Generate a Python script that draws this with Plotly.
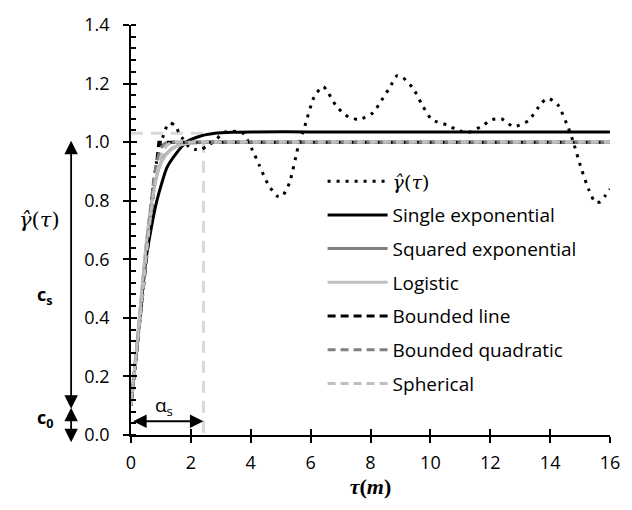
import plotly.graph_objects as go

# ---------------- data ----------------
emp_x = [0, 0.3, 0.6, 0.85, 1.06, 1.15, 1.28, 1.47, 1.6, 1.74, 1.95, 2.15, 2.35, 2.58, 2.78,
         3.08, 3.4, 3.73, 4.06, 4.28, 4.6, 4.9, 5.05, 5.29, 5.58, 5.8, 6.12, 6.42, 6.84, 7.17,
         7.6, 8.08, 8.37, 8.64, 8.89, 9.09, 9.43, 9.72, 10.05, 10.54, 10.98, 11.26, 11.69,
         12.07, 12.37, 12.78, 13.27, 13.71, 13.93, 14.26, 14.58, 14.75, 15.04, 15.28, 15.51,
         15.67, 15.84, 16]
emp_y = [0.10, 0.40, 0.72, 0.93, 1.016, 1.044, 1.065, 1.058, 1.032, 1.01, 0.982, 0.975, 0.975,
         0.99, 1.002, 1.032, 1.037, 1.032, 0.972, 0.922, 0.852, 0.815, 0.815, 0.86, 0.982,
         1.052, 1.155, 1.19, 1.126, 1.092, 1.077, 1.1, 1.143, 1.186, 1.227, 1.22, 1.183, 1.128,
         1.077, 1.059, 1.038, 1.033, 1.053, 1.077, 1.08, 1.053, 1.073, 1.133, 1.15, 1.127,
         1.056, 1.008, 0.91, 0.84, 0.794, 0.796, 0.817, 0.84]

sexp_x = [0, 0.07, 0.2, 0.5, 0.84, 1.2, 1.5, 1.85, 2.3, 2.8, 3.4, 4.0, 6.0, 16]
sexp_y = [0.10, 0.17, 0.30, 0.60, 0.79, 0.913, 0.96, 1.0, 1.02, 1.03, 1.034, 1.035, 1.035, 1.035]

sqexp_x = [0, 0.07, 0.2, 0.5, 0.68, 0.9, 1.1, 1.4, 1.8, 2.5, 3.2, 5.0, 16]
sqexp_y = [0.10, 0.18, 0.31, 0.64, 0.79, 0.90, 0.95, 0.98, 0.995, 1.0, 1.0, 1.0, 1.0]

logi_x = [0, 0.07, 0.2, 0.5, 0.7, 0.93, 1.2, 1.5, 2.0, 3.0, 4.0, 6.0, 16]
logi_y = [0.10, 0.18, 0.31, 0.645, 0.80, 0.913, 0.96, 0.985, 0.997, 1.0, 1.0, 1.0, 1.0]

bline_x = [0, 0.93, 16]
bline_y = [0.10, 1.0, 1.0]

bquad_x = [0, 0.2, 0.4, 0.6, 0.8, 1.0, 1.2, 1.5, 2.0, 3.0, 16]
bquad_y = [0.10, 0.30, 0.50, 0.72, 0.90, 0.98, 1.0, 1.0, 1.0, 1.0, 1.0]

spher_x = [0, 0.2, 0.4, 0.6, 0.8, 1.0, 1.2, 1.4, 1.7, 2.2, 3.0, 16]
spher_y = [0.10, 0.30, 0.50, 0.70, 0.86, 0.95, 0.99, 1.0, 1.0, 1.0, 1.0, 1.0]

# range / sill guide
guide_x = [0, 2.42, 2.42]
guide_y = [1.03, 1.03, 0]

GAMMA_HAT = '<span style="font-family:DejaVu Serif"><i>γ̂</i>(<i>τ</i>)</span>'
legend_names = [GAMMA_HAT,
                "Single exponential", "Squared exponential", "Logistic",
                "Bounded line", "Bounded quadratic", "Spherical"]

BLACK = "#000000"
DGREY = "#808080"
LGREY = "#bfbfbf"

fig = go.Figure()

fig.add_trace(go.Scatter(x=guide_x, y=guide_y, mode="lines", showlegend=False,
                         line=dict(color="#d9d9d9", width=3, dash="12px,8px"),
                         hoverinfo="skip"))

SPL = dict(shape="spline", smoothing=0.6)
fig.add_trace(go.Scatter(x=emp_x, y=emp_y, mode="lines", name=legend_names[0],
                         line=dict(color=BLACK, width=3, dash="3px,6px", **SPL),
                         legendgroup="a"))
fig.add_trace(go.Scatter(x=sexp_x, y=sexp_y, mode="lines", name=legend_names[1],
                         line=dict(color=BLACK, width=3, **SPL), legendgroup="b"))
fig.add_trace(go.Scatter(x=sqexp_x, y=sqexp_y, mode="lines", name=legend_names[2],
                         line=dict(color=DGREY, width=3, **SPL), legendgroup="c"))
fig.add_trace(go.Scatter(x=logi_x, y=logi_y, mode="lines", name=legend_names[3],
                         line=dict(color=LGREY, width=3, **SPL), legendgroup="d"))
fig.add_trace(go.Scatter(x=bline_x, y=bline_y, mode="lines", name=legend_names[4],
                         line=dict(color=BLACK, width=3, dash="8px,5px"),
                         legendgroup="e"))
fig.add_trace(go.Scatter(x=bquad_x, y=bquad_y, mode="lines", name=legend_names[5],
                         line=dict(color=DGREY, width=3, dash="8px,5px", **SPL),
                         legendgroup="f"))
fig.add_trace(go.Scatter(x=spher_x, y=spher_y, mode="lines", name=legend_names[6],
                         line=dict(color=LGREY, width=3, dash="8px,5px", **SPL),
                         legendgroup="g"))

TICKFONT = dict(family="Open Sans", size=18, color="#000000")

fig.update_layout(
    width=632, height=510,
    margin=dict(l=131, r=12, t=14, b=75),
    plot_bgcolor="white", paper_bgcolor="white",
    font=dict(family="Open Sans", size=18, color="#000000"),
    showlegend=True,
    legend=dict(x=0.40, y=0.665, xanchor="left", yanchor="top",
                bgcolor="rgba(0,0,0,0)", font=dict(family="Open Sans", size=19),
                traceorder="grouped", tracegroupgap=6, itemwidth=60),
    xaxis=dict(range=[0, 16], tickvals=[0, 2, 4, 6, 8, 10, 12, 14, 16],
               ticktext=["0", "2", "4", "6", "8", "10", "12", "14", "16"],
               showgrid=False, zeroline=False, showline=True, linecolor="black",
               linewidth=1.5, ticks="outside", ticklen=6, tickwidth=1.5, tickcolor="black",
               tickfont=TICKFONT, ticklabelstandoff=5,
               title=dict(text="<b><i>τ</i>(<i>m</i>)</b>",
                          font=dict(family="Liberation Serif", size=22), standoff=0)),
    yaxis=dict(range=[0, 1.4], tickvals=[0, 0.2, 0.4, 0.6, 0.8, 1.0, 1.2, 1.4],
               ticktext=["0.0", "0.2", "0.4", "0.6", "0.8", "1.0", "1.2", "1.4"],
               showgrid=False, zeroline=False, showline=True, linecolor="black",
               linewidth=1.5, ticks="outside", ticklen=6, tickwidth=1.5, tickcolor="black",
               tickfont=TICKFONT, ticklabelstandoff=10,
               minor=dict(dtick=0.04, tick0=0, ticks="inside", ticklen=5, tickwidth=1.5,
                          tickcolor="black")),
    # overlay axes to make major ticks cross the axis lines
    xaxis2=dict(overlaying="x", matches="x", range=[0, 16], side="bottom",
                tickvals=[0, 2, 4, 6, 8, 10, 12, 14, 16], showticklabels=False,
                ticks="inside", ticklen=6, tickwidth=1.5, tickcolor="black",
                showgrid=False, zeroline=False, showline=False),
    yaxis2=dict(overlaying="y", matches="y", range=[0, 1.4], side="left",
                tickvals=[0, 0.2, 0.4, 0.6, 0.8, 1.0, 1.2, 1.4], showticklabels=False,
                ticks="inside", ticklen=6, tickwidth=1.5, tickcolor="black",
                showgrid=False, zeroline=False, showline=False),
)

# invisible trace to activate the overlay axes
fig.add_trace(go.Scatter(x=[0], y=[0], xaxis="x2", yaxis="y2", mode="markers",
                         marker=dict(opacity=0), showlegend=False, hoverinfo="skip"))

ARROW = dict(showarrow=True, arrowhead=2, arrowsize=1.5, arrowwidth=1.8,
             arrowcolor="black", arrowside="end+start", text="")

# c_s double arrow
fig.add_annotation(xref="x domain", yref="y", x=-0.125, y=0.09, ax=-0.125, ay=1.01,
                   axref="x domain", ayref="y", **ARROW)
# c_0 double arrow
fig.add_annotation(xref="x domain", yref="y", x=-0.125, y=-0.025, ax=-0.125, ay=0.098,
                   axref="x domain", ayref="y", **ARROW)
# alpha_s double arrow
fig.add_annotation(xref="x", yref="y", x=2.42, y=0.047, ax=0.02, ay=0.047,
                   axref="x", ayref="y", **ARROW)

fig.add_annotation(xref="x domain", yref="y", x=-0.19, y=0.735, showarrow=False,
                   xanchor="center", yanchor="middle",
                   text="<i>γ̂</i>(<i>τ</i>)",
                   font=dict(family="DejaVu Serif", size=21))
fig.add_annotation(xref="x domain", yref="y", x=-0.18, y=0.475, showarrow=False,
                   xanchor="center", yanchor="middle",
                   text="<b>c<sub>s</sub></b>", font=dict(family="Open Sans", size=18))
fig.add_annotation(xref="x domain", yref="y", x=-0.18, y=0.057, showarrow=False,
                   xanchor="center", yanchor="middle",
                   text="<b>c<sub>0</sub></b>", font=dict(family="Open Sans", size=18))
fig.add_annotation(xref="x", yref="y", x=1.1, y=0.1, showarrow=False,
                   xanchor="center", yanchor="middle",
                   text="α<sub>s</sub>", font=dict(family="Open Sans", size=19))

fig.write_html("out.html")
